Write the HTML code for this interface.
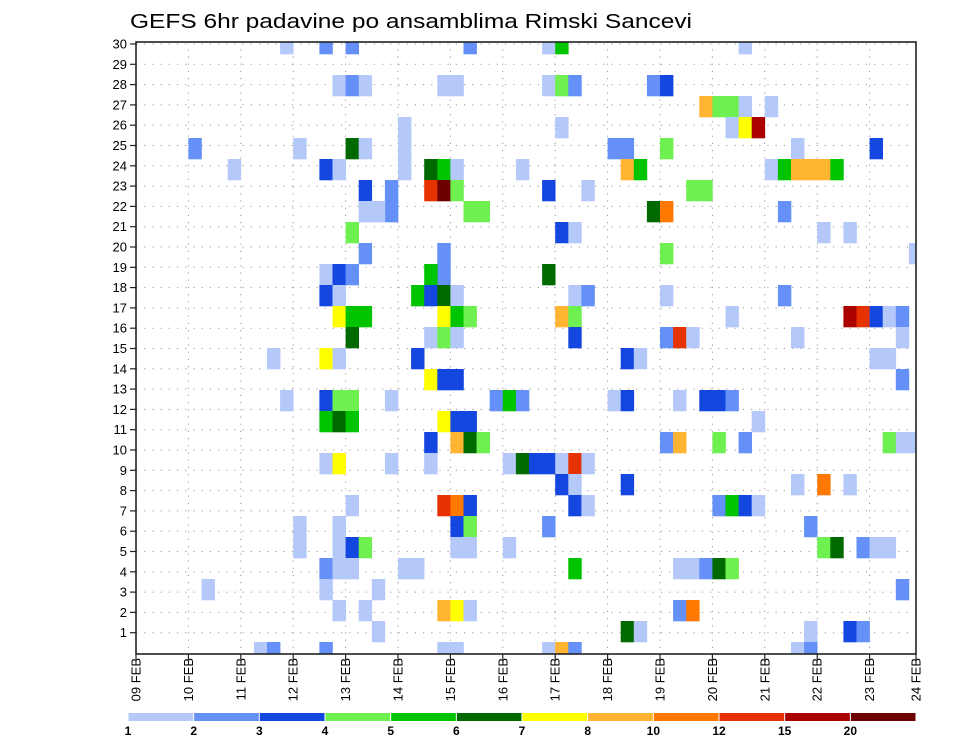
<!DOCTYPE html>
<html><head><meta charset="utf-8"><title>GEFS 6hr padavine</title>
<style>
html,body{margin:0;padding:0;background:#fff;}
svg{display:block;font-family:"Liberation Sans",sans-serif;}
</style></head>
<body>
<svg id="chart" width="960" height="742" viewBox="0 0 960 742" xmlns="http://www.w3.org/2000/svg">
<text x="130" y="28" font-size="20" textLength="562" lengthAdjust="spacingAndGlyphs" fill="#000">GEFS 6hr padavine po ansamblima Rimski Sancevi</text>
<defs><clipPath id="plotclip"><rect x="136" y="42" width="780" height="612"/></clipPath></defs>
<g id="grid"></g>
<g id="cells" clip-path="url(#plotclip)"></g>
<rect x="136" y="42" width="780" height="612" fill="none" stroke="#222" stroke-width="1.6"/>
<g id="yaxis"></g>
<g id="xaxis"></g>
<g id="legend"></g>
</svg>
<script>
// ---- data ----
const dayLabels = ["09 FEB","10 FEB","11 FEB","12 FEB","13 FEB","14 FEB","15 FEB","16 FEB","17 FEB","18 FEB","19 FEB","20 FEB","21 FEB","22 FEB","23 FEB","24 FEB"];
const memberTicks = [1,2,3,4,5,6,7,8,9,10,11,12,13,14,15,16,17,18,19,20,21,22,23,24,25,26,27,28,29,30];
const levelLabels = [1,2,3,4,5,6,7,8,10,12,15,20];
const levelColors = ["#b4c8fa","#6490f8","#1446e0","#6ef050","#00c400","#006a00","#ffff00","#ffb432","#ff7800","#e63200","#aa0000","#6e0000"];
// 6-hourly step index since 09 FEB 00Z
const timeStep = [
11,14,4,7,12,14,14,14,
10,14,11,14,14,14,12,12,
14,14,5,9,10,14,16,25,
15,16,17,23,24,20,20,20,
16,17,15,22,23,24,29,17,
19,19,22,23,24,17,18,25,
26,16,17,23,23,15,16,22,
15,21,22,23,24,15,16,17,
23,24,25,16,22,23,24,15,
21,22,23,24,15,16,19,27,
28,29,15,16,23,24,25,22,
24,25,26,15,19,22,28,29,
16,23,24,25,15,24,25,15,
16,17,24,25,28,15,16,20,
21,18,15,17,23,24,25,18,
23,24,31,32,31,32,33,39,
40,43,32,36,37,40,37,38,
31,34,42,43,39,40,32,33,
40,31,33,34,40,32,33,33,
40,41,42,37,38,36,37,41,
43,40,41,30,31,32,33,34,
32,33,37,33,34,31,33,41,
42,43,41,42,37,38,31,32,
33,46,44,45,46,48,45,46,
47,50,56,48,49,50,51,52,
53,49,52,54,59,49,45,54,
55,56,57,58,50,58,56,57,
58,44,45,47,44,46,57,58,
59,50,52,54,44,45,46,47,
51,52,53,55,56,57,44,45,
58,51,54,55,50,51];
// ensemble row from top (0 = member 30)
const ensembleRow = [
0,0,5,6,5,6,11,12,
15,15,17,17,18,20,23,24,
25,26,26,29,29,29,0,0,
2,2,2,2,2,4,5,6,
5,5,6,6,6,6,6,7,
7,8,7,7,7,8,8,8,
8,9,10,10,11,11,11,11,
12,12,12,12,12,13,13,13,
13,13,13,14,14,14,14,15,
15,16,16,16,17,17,17,17,
17,17,18,18,18,18,18,19,
19,19,19,20,20,20,20,20,
22,22,22,22,23,23,23,24,
24,24,24,24,24,25,25,25,
25,26,27,27,27,27,27,28,
29,29,0,0,2,2,2,2,
2,3,4,5,5,5,6,6,
7,7,7,7,8,8,9,9,
10,11,12,12,12,13,13,14,
14,14,14,15,15,17,17,17,
17,19,19,20,20,20,20,20,
21,21,21,22,22,23,25,25,
25,25,27,27,28,28,29,29,
29,0,3,3,3,3,4,4,
4,5,5,6,6,6,6,6,
6,8,9,9,10,12,13,13,
13,13,13,13,14,14,15,15,
16,17,17,18,19,19,19,19,
19,21,21,21,22,22,22,22,
23,24,24,24,24,24,25,25,
26,28,28,28,29,29];
// precipitation (mm / 6h)
const precip = [
1.5,2.5,2.5,1.5,1.5,3.5,1.5,3.5,
1.5,7.5,1.5,3.5,5.5,1.5,1.5,1.5,
2.5,1.5,1.5,1.5,2.5,2.5,2.5,2.5,
1.5,2.5,1.5,1.5,1.5,1.5,1.5,1.5,
6.5,1.5,1.5,6.5,5.5,1.5,1.5,3.5,
2.5,2.5,13.5,25,4.5,1.5,1.5,4.5,
4.5,4.5,2.5,2.5,2.5,3.5,2.5,5.5,
1.5,5.5,3.5,6.5,1.5,7.5,5.5,5.5,
7.5,5.5,4.5,6.5,1.5,4.5,1.5,1.5,
3.5,7.5,3.5,3.5,4.5,4.5,1.5,2.5,
5.5,2.5,6.5,5.5,7.5,3.5,3.5,3.5,
9,6.5,4.5,7.5,1.5,1.5,1.5,6.5,
1.5,13.5,11,3.5,1.5,3.5,4.5,1.5,
3.5,4.5,1.5,1.5,1.5,1.5,1.5,1.5,
1.5,1.5,1.5,1.5,9,7.5,1.5,1.5,
1.5,1.5,1.5,5.5,1.5,4.5,2.5,2.5,
3.5,9,1.5,2.5,2.5,4.5,9,5.5,
3.5,1.5,4.5,4.5,6.5,11,3.5,1.5,
4.5,6.5,1.5,2.5,1.5,9,4.5,3.5,
2.5,13.5,1.5,3.5,1.5,1.5,3.5,1.5,
3.5,2.5,9,3.5,3.5,1.5,13.5,1.5,
3.5,1.5,3.5,3.5,1.5,2.5,5.5,1.5,
1.5,2.5,2.5,11,6.5,1.5,1.5,9,
2.5,1.5,4.5,4.5,1.5,1.5,1.5,7.5,
17,1.5,3.5,1.5,5.5,9,9,9,
5.5,2.5,1.5,1.5,1.5,2.5,1.5,17,
13.5,3.5,1.5,2.5,1.5,1.5,1.5,1.5,
2.5,3.5,2.5,1.5,4.5,2.5,4.5,1.5,
1.5,1.5,11,1.5,2.5,5.5,3.5,1.5,
2.5,4.5,6.5,2.5,1.5,1.5,6.5,4.5,
2.5,1.5,3.5,2.5,1.5,2.5];

// ---- scales ----
const NS = "http://www.w3.org/2000/svg";
const X0 = 136, DAYW = 52.4, PLOT_TOP = 42, PLOT_BOTTOM = 654, PLOT_RIGHT = 916;
const CELL_TOP0 = 33, CELL_H = 21;
function xStep(s){ return X0 + s * DAYW / 4; }
function xDay(d){ return Math.min(X0 + d * DAYW, PLOT_RIGHT); }
function yRow(j){ return CELL_TOP0 + j * CELL_H; }
function yMember(k){ return 653 - 20.3 * k; }
function colorFor(v){
  let idx = -1;
  for (let i = 0; i < levelLabels.length; i++) { if (v >= levelLabels[i]) idx = i; }
  return idx < 0 ? null : levelColors[idx];
}
function mk(tag, attrs, parent){
  const el = document.createElementNS(NS, tag);
  for (const k in attrs) el.setAttribute(k, attrs[k]);
  parent.appendChild(el);
  return el;
}

// ---- grid ----
const grid = document.getElementById("grid");
for (let d = 1; d < dayLabels.length - 1; d++) {
  const gl = mk("line", {x1: xDay(d), x2: xDay(d), y1: PLOT_TOP, y2: PLOT_BOTTOM, stroke: "#999", "stroke-width": 1, "stroke-dasharray": "1.2,6"}, grid);
  
  
}
memberTicks.forEach(k => {
  const gl = mk("line", {x1: X0, x2: PLOT_RIGHT, y1: yMember(k), y2: yMember(k), stroke: "#999", "stroke-width": 1, "stroke-dasharray": "1.2,7"}, grid);
  
  
});

// ---- cells ----
const cells = document.getElementById("cells");
for (let i = 0; i < precip.length; i++) {
  const c = colorFor(precip[i]);
  if (!c) continue;
  const r = mk("rect", {x: xStep(timeStep[i]), y: yRow(ensembleRow[i]), width: DAYW / 4 + 0.3, height: CELL_H + 0.3, fill: c}, cells);
  
  
}

// ---- y axis ----
const yaxis = document.getElementById("yaxis");
memberTicks.forEach(k => {
  const t = mk("line", {x1: 130, x2: 136, y1: yMember(k), y2: yMember(k), stroke: "#222", "stroke-width": 1.2}, yaxis);
  
  
  const lb = mk("text", {x: 127, y: yMember(k) + 4.5, "font-size": 13, "text-anchor": "end", fill: "#000"}, yaxis);
  lb.textContent = k;
  
  
});

// ---- x axis ----
const xaxis = document.getElementById("xaxis");
dayLabels.forEach((lab, d) => {
  const x = xDay(d);
  const t = mk("line", {x1: x, x2: x, y1: PLOT_BOTTOM, y2: PLOT_BOTTOM + 6, stroke: "#222", "stroke-width": 1.2}, xaxis);
  
  
  const lb = mk("text", {x: 0, y: 0, "font-size": 13, "text-anchor": "end", fill: "#000", transform: "translate(" + (x + 4.5) + "," + 658 + ") rotate(-90)"}, xaxis);
  lb.textContent = lab;
  
  
});

// ---- legend ----
const legend = document.getElementById("legend");
const LX = 128, LW = (916 - 128) / levelColors.length;
levelColors.forEach((c, i) => {
  const r = mk("rect", {x: LX + i * LW + 0.5, y: 713, width: LW - 1, height: 8, fill: c}, legend);
  
  
});
levelLabels.forEach((v, i) => {
  const lb = mk("text", {x: LX + i * LW, y: 735, "font-size": 12, "font-weight": "bold", "text-anchor": "middle", fill: "#000"}, legend);
  lb.textContent = v;
  
  
});
</script>
</body></html>
